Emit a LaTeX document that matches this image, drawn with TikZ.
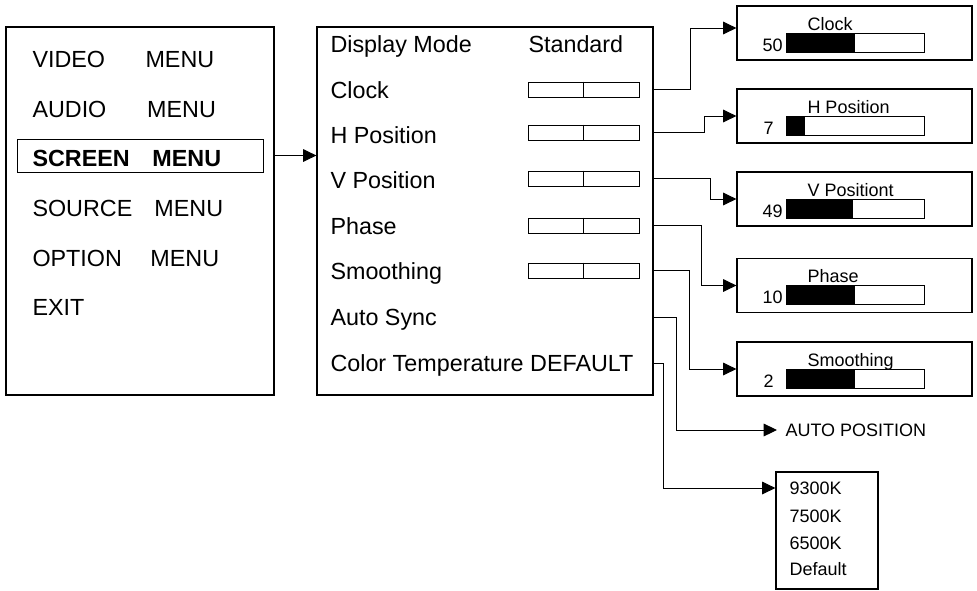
\documentclass[tikz,border=0pt]{standalone}
\usepackage{fontspec}
\newfontfamily\osdfont{Liberation Sans}
\usetikzlibrary{arrows.meta}
\newcommand{\menuword}[2]{\makebox[#1][l]{#2}}

\tikzset{every picture/.style={line width=0.75pt}}
\tikzset{
  bigtext/.style={font=\osdfont\fontsize{17.5}{21}\selectfont, inner sep=0pt, text height=12.5pt, text depth=0pt, anchor=west},
  smalltext/.style={font=\osdfont\fontsize{13.5}{16}\selectfont, inner sep=0pt, text height=9.7pt, text depth=0pt, anchor=west},
  menubox/.style={draw, line width=0.9pt, inner sep=0pt},
  slider/.style={draw, inner sep=0pt, minimum width=83.25pt, minimum height=11.25pt},
  levelbar/.style={draw, inner sep=0pt, minimum width=103.5pt, minimum height=14.25pt},
  adjwin/.style={draw, line width=0.9pt, inner sep=0pt, minimum width=176.25pt, minimum height=40.5pt},
  tip/.style={-{Triangle[length=10pt,width=9.5pt]}},
}

\begin{document}
\begin{tikzpicture}[x=0.75pt,y=0.75pt,yscale=-1,xscale=1]
		\useasboundingbox (0,0) rectangle (977,590);
		
		%Shape: Main menu
		\node[menubox, minimum width=201pt, minimum height=276pt] (mainmenu) at (140,211) {};
		%Shape: Highlight
		\node[draw, inner sep=0pt, minimum width=184.5pt, minimum height=24.75pt] (screenbox) at (140,155.5) {};
		% Text Node
		\node[bigtext] (video) at (32,59) {\menuword{84.75pt}{VIDEO}MENU};
		% Text Node
		\node[bigtext] (audio) at (32,109) {\menuword{86pt}{AUDIO}MENU};
		% Text Node
		\node[bigtext] (screen) at (32,158) {\bfseries\menuword{90pt}{SCREEN}MENU};
		% Text Node
		\node[bigtext] (source) at (32,208) {\menuword{91.5pt}{SOURCE}MENU};
		% Text Node
		\node[bigtext] (option) at (32,258) {\menuword{88.5pt}{OPTION}MENU};
		% Text Node
		\node[bigtext] (exit) at (32,307) {EXIT};
		
		%Shape: Screen menu
		\node[menubox, minimum width=252pt, minimum height=276pt] (screenmenu) at (485,211) {};
		%Straight Lines
		\draw[tip] (screenbox -| mainmenu.east) -- (screenbox -| screenmenu.west);
		% Text Node
		\node[bigtext] (displaymode) at (330,44) {Display Mode};
		% Text Node
		\node[bigtext] (standard) at (528,44) {Standard};
		% Text Node
		\node[bigtext] (clock) at (330,90) {Clock};
		% Text Node
		\node[bigtext] (hpos) at (330,135) {H Position};
		% Text Node
		\node[bigtext] (vpos) at (330,180) {V Position};
		% Text Node
		\node[bigtext] (phase) at (330,226) {Phase};
		% Text Node
		\node[bigtext] (smooth) at (330,271) {Smoothing};
		% Text Node
		\node[bigtext] (autosync) at (330,317) {Auto Sync};
		% Text Node
		\node[bigtext] (colortemp) at (330,363) {Color Temperature DEFAULT};
		
		%Shape: Sliders
		\node[slider] (clockslider) at (583.5,89.5) {};
		\draw (clockslider.north) -- (clockslider.south);
		\node[slider] (hslider) at (583.5,132.5) {};
		\draw (hslider.north) -- (hslider.south);
		\node[slider] (vslider) at (583.5,178.5) {};
		\draw (vslider.north) -- (vslider.south);
		\node[slider] (phaseslider) at (583.5,225.5) {};
		\draw (phaseslider.north) -- (phaseslider.south);
		\node[slider] (smoothslider) at (583.5,270.5) {};
		\draw (smoothslider.north) -- (smoothslider.south);
		
		%Shape: Clock window
		\node[adjwin] (clockwin) at (854.5,33) {};
		\node[smalltext] (clocktitle) at (807,24) {Clock};
		\node[levelbar] (clocklevel) at (855,42.5) {};
		\fill (clocklevel.north west) rectangle ++(69,19);
		\node[smalltext] (clockvalue) at (762,45) {50};
		
		%Shape: H Position window
		\node[adjwin] (hwin) at (854.5,116) {};
		\node[smalltext] (htitle) at (807,107) {H Position};
		\node[levelbar] (hlevel) at (855,125.5) {};
		\fill (hlevel.north west) rectangle ++(19,19);
		\node[smalltext] (hvalue) at (763,128) {7};
		
		%Shape: V Position window
		\node[adjwin] (vwin) at (854.5,199) {};
		\node[smalltext] (vtitle) at (807,190) {V Positiont};
		\node[levelbar] (vlevel) at (855,208.5) {};
		\fill (vlevel.north west) rectangle ++(67,19);
		\node[smalltext] (vvalue) at (762,211) {49};
		
		%Shape: Phase window
		\node[adjwin] (phasewin) at (854.5,285.5) {};
		\node[smalltext] (phasetitle) at (807,276.5) {Phase};
		\node[levelbar] (phaselevel) at (855,295) {};
		\fill (phaselevel.north west) rectangle ++(69,19);
		\node[smalltext] (phasevalue) at (762,297.5) {10};
		
		%Shape: Smoothing window
		\node[adjwin] (smoothwin) at (854.5,369) {};
		\node[smalltext] (smoothtitle) at (807,360) {Smoothing};
		\node[levelbar] (smoothlevel) at (855,378.5) {};
		\fill (smoothlevel.north west) rectangle ++(69,19);
		\node[smalltext] (smoothvalue) at (763,381) {2};
		
		% Text Node
		\node[smalltext] (autopos) at (785,430) {AUTO POSITION};
		
		%Shape: Color list
		\node[menubox, minimum width=76.5pt, minimum height=87.75pt] (colorwin) at (827,530.5) {};
		\node[smalltext] (k9300) at (789,488) {9300K};
		\node[smalltext] (k7500) at (789,516) {7500K};
		\node[smalltext] (k6500) at (789,543) {6500K};
		\node[smalltext] (kdefault) at (789,569) {Default};
		
		%Straight Lines
		\draw[tip] (clockslider -| screenmenu.east) -- ++(37,0) |- ([yshift=-3.75pt]clockwin.west);
		\draw[tip] (hslider -| screenmenu.east) -- ++(51,0) |- (hwin.west);
		\draw[tip] (vslider -| screenmenu.east) -- ++(57,0) |- (vwin.west);
		\draw[tip] (phaseslider -| screenmenu.east) -- ++(48,0) |- (phasewin.west);
		\draw[tip] (smoothslider -| screenmenu.east) -- ++(36,0) |- (smoothwin.west);
		\draw[tip] (autosync -| screenmenu.east) -- ++(23,0) |- ([xshift=-6pt]autopos.west);
		\draw[tip] (colortemp -| screenmenu.east) -- ++(10,0) |- (k9300 -| colorwin.west);
		
	\end{tikzpicture}
\end{document}
